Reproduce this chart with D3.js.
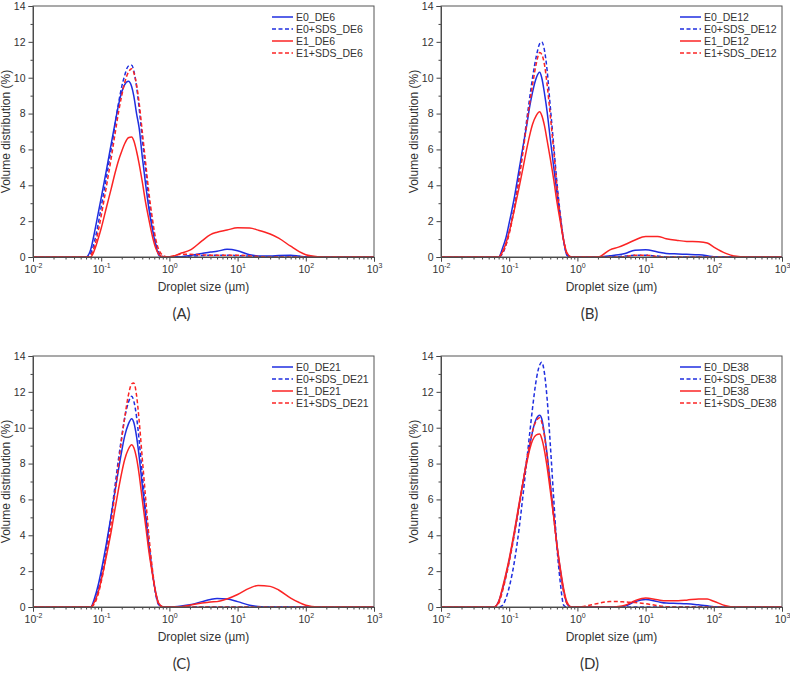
<!DOCTYPE html>
<html lang="en">
<head>
<meta charset="utf-8">
<title>Droplet size distributions</title>
<script src="https://d3js.org/d3.v7.min.js"></script>
<style>
  body { margin: 0; background: #fff; }
  text { font-family: "Liberation Sans", Arial, sans-serif; fill: #333; }
</style>
</head>
<body>
<script>
// droplet sizes (um) shared by every curve
var sizes = [0.01, 0.06, 0.07, 0.08, 0.09, 0.1, 0.12, 0.14, 0.16, 0.18, 0.2, 0.22, 0.25, 0.28, 0.3,
             0.33, 0.36, 0.4, 0.45, 0.5, 0.56, 0.63, 0.7, 0.8, 0.9, 1,
             1.5, 2, 3, 4, 5, 7, 10, 15, 20, 30, 40, 60, 80, 100, 150, 200, 300, 1000];

// (A) DE6
var a_E0     = [0, 0, 0.4, 1.4, 2.4, 3.3, 4.9, 6.3, 7.5, 8.5, 9.2, 9.6, 9.8, 9.5, 9.0, 8.0, 7.2, 5.6, 4.0, 2.7, 1.6, 0.7, 0.1, 0, 0, 0,
                0.02, 0.08, 0.2, 0.28, 0.32, 0.43, 0.35, 0.12, 0.06, 0.05, 0.08, 0.1, 0.05, 0.01, 0, 0, 0, 0];
var a_E0SDS  = [0, 0, 0.2, 0.9, 1.8, 2.8, 4.5, 6.0, 7.4, 8.6, 9.5, 10.1, 10.65, 10.7, 10.4, 9.5, 8.3, 6.6, 4.8, 3.2, 1.9, 0.8, 0.25, 0.03, 0, 0,
                0.02, 0.05, 0.08, 0.1, 0.1, 0.1, 0.08, 0.05, 0.02, 0, 0, 0, 0, 0, 0, 0, 0, 0];
var a_E1     = [0, 0, 0, 0.4, 1.0, 1.6, 2.8, 3.8, 4.7, 5.4, 5.9, 6.3, 6.65, 6.7, 6.5, 5.9, 5.2, 4.2, 3.0, 2.1, 1.2, 0.5, 0.15, 0.02, 0, 0,
                0.22, 0.38, 0.9, 1.25, 1.38, 1.5, 1.63, 1.62, 1.5, 1.28, 1.05, 0.6, 0.3, 0.13, 0.02, 0, 0, 0];
var a_E1SDS  = [0, 0, 0.1, 0.6, 1.4, 2.3, 4.0, 5.5, 6.9, 8.1, 9.0, 9.7, 10.3, 10.5, 10.3, 9.6, 8.6, 7.0, 5.2, 3.6, 2.2, 1.0, 0.4, 0.1, 0.02, 0.02,
                0.15, 0.15, 0.12, 0.1, 0.1, 0.1, 0.1, 0.06, 0.03, 0, 0, 0, 0, 0, 0, 0, 0, 0];

// (B) DE12
var b_E0     = [0, 0, 0, 0.5, 1.1, 1.9, 3.4, 4.9, 6.2, 7.3, 8.4, 9.2, 10.0, 10.3, 10.0, 9.1, 8.1, 6.6, 5.0, 3.6, 2.2, 0.9, 0.1, 0, 0, 0,
                0, 0, 0.07, 0.12, 0.2, 0.38, 0.4, 0.28, 0.2, 0.17, 0.15, 0.12, 0.07, 0.02, 0, 0, 0, 0];
var b_E0SDS  = [0, 0, 0, 0.2, 0.7, 1.4, 2.9, 4.5, 6.1, 7.6, 8.9, 10.0, 11.2, 11.9, 12.0, 11.5, 10.4, 8.4, 6.2, 4.2, 2.4, 0.9, 0.15, 0, 0, 0,
                0, 0, 0, 0.02, 0.05, 0.1, 0.1, 0.05, 0, 0, 0, 0, 0, 0, 0, 0, 0, 0];
var b_E1     = [0, 0, 0, 0.3, 0.8, 1.4, 2.7, 3.9, 5.0, 6.0, 6.8, 7.4, 7.9, 8.1, 7.9, 7.3, 6.5, 5.5, 4.3, 3.1, 2.0, 0.9, 0.25, 0.02, 0, 0,
                0, 0, 0.4, 0.55, 0.7, 0.95, 1.15, 1.15, 1.02, 0.92, 0.87, 0.85, 0.78, 0.55, 0.2, 0.05, 0, 0];
var b_E1SDS  = [0, 0, 0, 0.25, 0.7, 1.3, 2.8, 4.4, 5.9, 7.4, 8.6, 9.6, 10.8, 11.4, 11.3, 10.7, 9.6, 7.9, 5.9, 4.0, 2.3, 0.9, 0.2, 0, 0, 0,
                0, 0, 0, 0, 0.03, 0.1, 0.1, 0.03, 0, 0, 0, 0, 0, 0, 0, 0, 0, 0];

// (C) DE21
var c_E0     = [0, 0, 0, 0.5, 1.2, 2.0, 3.6, 5.1, 6.5, 7.7, 8.7, 9.5, 10.2, 10.5, 10.3, 9.5, 8.4, 6.8, 5.0, 3.4, 2.0, 0.8, 0.15, 0, 0, 0,
                0.05, 0.12, 0.3, 0.42, 0.47, 0.45, 0.3, 0.1, 0.03, 0, 0, 0, 0, 0, 0, 0, 0, 0];
var c_E0SDS  = [0, 0, 0, 0.3, 0.9, 1.7, 3.4, 5.1, 6.8, 8.3, 9.5, 10.5, 11.4, 11.75, 11.5, 10.6, 9.3, 7.4, 5.3, 3.5, 2.0, 0.7, 0.1, 0, 0, 0,
                0, 0, 0, 0, 0, 0, 0, 0, 0, 0, 0, 0, 0, 0, 0, 0, 0, 0];
var c_E1     = [0, 0, 0, 0.3, 0.8, 1.5, 2.9, 4.2, 5.5, 6.6, 7.5, 8.2, 8.8, 9.05, 8.9, 8.3, 7.4, 6.0, 4.5, 3.1, 1.9, 0.8, 0.2, 0.02, 0, 0,
                0.02, 0.1, 0.22, 0.28, 0.3, 0.45, 0.7, 1.05, 1.2, 1.15, 0.95, 0.5, 0.25, 0.1, 0, 0, 0, 0];
var c_E1SDS  = [0, 0, 0, 0.2, 0.7, 1.4, 3.0, 4.7, 6.4, 8.0, 9.4, 10.5, 11.8, 12.45, 12.5, 11.8, 10.4, 8.3, 6.0, 4.0, 2.2, 0.8, 0.15, 0, 0, 0,
                0, 0, 0, 0, 0, 0, 0, 0, 0, 0, 0, 0, 0, 0, 0, 0, 0, 0];

// (D) DE38
var d_E0     = [0, 0, 0.3, 1.0, 1.8, 2.6, 4.2, 5.7, 7.0, 8.1, 9.0, 9.8, 10.5, 10.7, 10.5, 9.6, 8.5, 6.9, 5.1, 3.5, 2.1, 0.9, 0.2, 0, 0, 0,
                0, 0, 0, 0, 0.05, 0.3, 0.42, 0.3, 0.22, 0.2, 0.18, 0.12, 0.07, 0.02, 0, 0, 0, 0];
var d_E0SDS  = [0, 0, 0, 0.1, 0.5, 1.1, 2.6, 4.4, 6.3, 8.1, 9.7, 11.1, 12.7, 13.5, 13.65, 13.0, 11.6, 9.1, 6.0, 3.4, 1.4, 0.1, 0, 0, 0, 0,
                0, 0, 0, 0, 0, 0, 0, 0, 0, 0, 0, 0, 0, 0, 0, 0, 0, 0];
var d_E1     = [0, 0, 0.3, 1.1, 1.9, 2.7, 4.3, 5.8, 7.0, 8.0, 8.8, 9.3, 9.6, 9.65, 9.4, 8.7, 7.8, 6.5, 5.0, 3.5, 2.2, 1.0, 0.3, 0.02, 0, 0,
                0, 0, 0, 0.03, 0.1, 0.35, 0.5, 0.4, 0.35, 0.35, 0.38, 0.45, 0.44, 0.32, 0.07, 0, 0, 0];
var d_E1SDS  = [0, 0, 0.2, 0.9, 1.7, 2.5, 4.1, 5.6, 7.0, 8.2, 9.1, 9.8, 10.4, 10.55, 10.3, 9.5, 8.4, 6.8, 5.0, 3.4, 2.0, 0.8, 0.2, 0, 0, 0,
                0.1, 0.2, 0.3, 0.3, 0.28, 0.25, 0.18, 0.08, 0.02, 0, 0, 0, 0, 0, 0, 0, 0, 0];

var xTicks = [0.01, 0.1, 1, 10, 100, 1000];
var xExps = ["-2", "-1", "0", "1", "2", "3"];
var yTicks = [0, 2, 4, 6, 8, 10, 12, 14];

var panels = [
  {tag: "(A)", de: "DE6",  series: [a_E0, a_E0SDS, a_E1, a_E1SDS], left: 33,  top: 6},
  {tag: "(B)", de: "DE12", series: [b_E0, b_E0SDS, b_E1, b_E1SDS], left: 441, top: 6},
  {tag: "(C)", de: "DE21", series: [c_E0, c_E0SDS, c_E1, c_E1SDS], left: 33,  top: 356},
  {tag: "(D)", de: "DE38", series: [d_E0, d_E0SDS, d_E1, d_E1SDS], left: 441, top: 356}
];
var prefixes = ["E0_", "E0+SDS_", "E1_", "E1+SDS_"];

var blue = "#1f2ee0", red = "#fb2424";
var styles = [
  {color: blue, dash: null},
  {color: blue, dash: "4,2.5"},
  {color: red,  dash: null},
  {color: red,  dash: "4,2.5"}
];

var W = 790, H = 673;
var pw = 341, ph = 251;

var svg = d3.select("body").append("svg")
  .attr("width", W)
  .attr("height", H);

var x = d3.scaleLog().domain([0.01, 1000]).range([0, pw]);
var y = d3.scaleLinear().domain([0, 14]).range([ph, 0]);

// minor x ticks 2..9 in each decade
var xMinor = [];
for (var e = -2; e < 3; e++) {
  for (var m = 2; m <= 9; m++) xMinor.push(m * Math.pow(10, e));
}
var yMinor = d3.range(1, 14, 2);

var line = d3.line()
  .x(function(d) { return x(d[0]); })
  .y(function(d) { return y(d[1]); })
  .curve(d3.curveMonotoneX);

panels.forEach(function(p) {
  var g = svg.append("g").attr("transform", "translate(" + p.left + "," + p.top + ")");

  // clip so curves stay inside the frame
  var cid = "clip" + p.de;
  g.append("clipPath").attr("id", cid)
    .append("rect").attr("width", pw).attr("height", ph);

  var curves = g.append("g").attr("clip-path", "url(#" + cid + ")");
  p.series.forEach(function(vals, i) {
    var pts = sizes.map(function(s, k) { return [s, vals[k]]; });
    curves.append("path")
      .datum(pts)
      .attr("d", line)
      .attr("fill", "none")
      .attr("stroke", styles[i].color)
      .attr("stroke-width", 1.5)
      .attr("stroke-dasharray", styles[i].dash);
  });

  // minor ticks
  g.append("g")
    .attr("transform", "translate(0," + ph + ")")
    .call(d3.axisBottom(x).tickValues(xMinor).tickSize(2.5).tickFormat(""))
    .call(function(s) { s.select(".domain").remove(); });
  g.append("g")
    .call(d3.axisLeft(y).tickValues(yMinor).tickSize(2.5).tickFormat(""))
    .call(function(s) { s.select(".domain").remove(); });

  // major x axis, labels 10^n
  var xa = g.append("g")
    .attr("transform", "translate(0," + ph + ")")
    .call(d3.axisBottom(x).tickValues(xTicks).tickSize(4.5).tickPadding(4).tickFormat(""));
  xa.selectAll(".tick text").each(function(d, i) {
    var t = d3.select(this).text(null).attr("font-size", 10.5);
    t.append("tspan").text("10");
    t.append("tspan").text(xExps[i]).attr("font-size", 7).attr("dy", -5);
  });

  var ya = g.append("g")
    .call(d3.axisLeft(y).tickValues(yTicks).tickSize(4.5).tickPadding(3));
  ya.selectAll(".tick text").attr("font-size", 10.5).attr("font-family", "Liberation Sans, Arial, sans-serif");

  [xa, ya].forEach(function(a) {
    a.selectAll("line, path").attr("stroke", "#444");
    a.selectAll("text").attr("fill", "#333");
  });
  g.selectAll(".tick line").attr("stroke", "#444");

  // frame
  g.append("rect")
    .attr("width", pw).attr("height", ph)
    .attr("fill", "none")
    .attr("stroke", "#555")
    .attr("stroke-width", 1);

  // axis titles
  g.append("text")
    .attr("x", pw / 2).attr("y", ph + 34)
    .attr("text-anchor", "middle")
    .attr("font-size", 12)
    .text("Droplet size (\u00b5m)");
  g.append("text")
    .attr("transform", "translate(-23," + (ph / 2) + ") rotate(-90)")
    .attr("text-anchor", "middle")
    .attr("font-size", 12)
    .text("Volume distribution (%)");

  // panel tag
  g.append("text")
    .attr("x", pw / 2 - 22).attr("y", ph + 62)
    .attr("text-anchor", "middle")
    .attr("font-size", 15)
    .style("font-family", "Lato, 'Open Sans', sans-serif")
    .text(p.tag);

  // legend
  var lg = g.append("g").attr("transform", "translate(" + (pw - 102) + ",11)");
  prefixes.forEach(function(pre, i) {
    var row = lg.append("g").attr("transform", "translate(0," + (i * 12) + ")");
    row.append("line")
      .attr("x1", 0).attr("x2", 21)
      .attr("stroke", styles[i].color)
      .attr("stroke-width", 1.5)
      .attr("stroke-dasharray", styles[i].dash);
    row.append("text")
      .attr("x", 24).attr("y", 3.8)
      .attr("font-size", 10.5)
      .text(pre + p.de);
  });
});
</script>
</body>
</html>
